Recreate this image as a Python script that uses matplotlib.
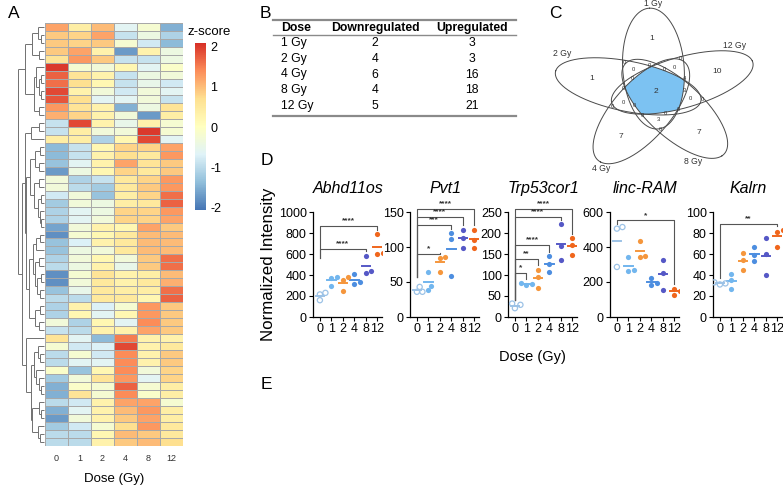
import numpy as np
import matplotlib
matplotlib.use('Agg')
import matplotlib.pyplot as plt
from matplotlib.colors import LinearSegmentedColormap, Normalize
from matplotlib.cm import ScalarMappable

plt.rcParams['font.family'] = ['Liberation Sans', 'DejaVu Sans']
plt.rcParams['axes.unicode_minus'] = False

# ---------------- data ----------------
doses = ['0', '1', '2', '4', '8', '12']

heat = np.array([
    [1.2, 0.4, 1.0, -0.6, -0.2, -1.5],
    [0.9, 0.8, 1.2, -0.9, -0.4, -1.1],
    [0.9, 0.8, 0.9, -0.2, -0.8, -1.4],
    [0.9, 1.2, 0.3, -1.7, 0.3, -0.4],
    [0.6, 1.3, 0.9, -0.9, -0.9, -0.4],
    [2.0, -0.2, -0.3, 0.2, -0.6, -0.1],
    [1.7, 0.6, 0.3, -0.9, -0.4, -0.3],
    [1.6, 0.7, 0.2, -0.9, -0.5, -0.8],
    [1.9, 0.3, -0.3, -0.8, -0.3, -0.6],
    [1.8, 0.7, -0.6, -0.6, -0.3, -0.9],
    [1.3, 0.6, 0.3, -1.5, -0.4, 0.6],
    [1.1, 0.8, 0.3, -0.3, -1.7, 0.4],
    [-0.9, 1.9, 0.3, -0.5, 0.3, -0.2],
    [-0.9, 0.4, -0.3, -0.3, 2.0, -0.2],
    [0.4, 0.4, -1.1, 0.2, 1.9, -0.6],
    [-1.4, -0.9, 0.2, 0.8, 0.8, 1.2],
    [-1.4, -0.9, 0.3, 0.7, 0.5, 1.3],
    [-1.3, -0.6, 0.3, 1.2, 0.6, 0.9],
    [-1.7, -0.4, 0.2, 0.8, 0.5, 0.9],
    [-0.3, -1.1, -0.9, 0.5, 0.8, 1.3],
    [-0.3, -1.0, -1.2, 0.5, 0.9, 1.3],
    [-0.8, -0.3, -1.3, 0.4, 0.8, 1.6],
    [-1.2, -0.3, -0.4, 0.4, 0.5, 1.7],
    [-1.1, -0.6, -0.4, 0.8, 0.8, 1.3],
    [-1.1, -0.6, -0.3, 0.8, 0.8, 1.2],
    [-1.6, -0.3, 0.3, 0.2, 1.2, 0.9],
    [-1.8, -0.2, 0.2, 0.5, 1.0, 1.0],
    [-1.3, -0.7, 0.3, 0.5, 1.0, 1.0],
    [-1.3, -0.4, -0.3, 0.5, 1.0, 1.0],
    [-1.1, -0.3, 0.2, -0.3, 0.9, 1.6],
    [-1.0, -0.4, 0.3, -0.5, 0.9, 1.6],
    [-1.8, -0.2, 0.6, 0.3, 0.4, 1.0],
    [-1.8, -0.3, 0.5, 0.3, 0.5, 1.1],
    [-1.3, -0.5, 0.5, 0.4, 0.4, 1.6],
    [-1.0, -1.0, 0.5, 0.5, 0.2, 1.7],
    [-1.1, 0.3, -0.7, -0.2, 1.3, 0.9],
    [-1.1, 0.2, -0.6, 0.2, 1.3, 0.9],
    [-0.3, -1.1, 0.2, -0.6, 1.4, 0.9],
    [-0.9, -1.0, 0.3, 0.3, 1.2, 0.9],
    [0.6, -0.6, -1.4, 1.5, 0.3, 0.3],
    [-0.2, -0.8, -0.7, 1.9, 0.3, 0.5],
    [-1.0, -0.2, -0.8, 1.4, 0.3, 0.9],
    [-1.0, -0.6, -0.6, 1.4, 0.3, 0.9],
    [-0.1, -1.3, 0.2, 1.4, -0.3, 0.8],
    [-1.2, -0.3, 0.6, 1.3, -0.6, 0.8],
    [-1.5, -0.1, -0.2, 1.7, -0.2, 0.4],
    [-1.5, 0.6, -0.2, 1.4, -0.1, 0.4],
    [-1.0, -0.8, 0.3, 1.2, 1.2, -0.2],
    [-1.5, -0.6, 0.3, 1.0, 1.3, 0.4],
    [-1.7, -0.3, 0.3, 0.9, 1.2, 0.4],
    [-1.2, -0.8, -0.2, 0.7, 1.3, 0.5],
    [-1.0, -1.0, 0.2, 1.0, 0.9, 0.5],
    [-1.0, -1.0, 0.3, 0.9, 1.0, 0.7],
])

# row dendrogram: (height, left, right) or leaf index
dendro = (1.0,
          (0.72,
           (0.45, (0.25, 0, (0.12, 1, 2)), (0.2, 3, 4)),
           (0.4, (0.3, 5, (0.2, (0.1, 6, 7), (0.12, 8, 9))), (0.18, 10, 11))),
          (0.85,
           (0.75,
            (0.5, (0.2, 12, 13), 14),
            (0.68,
             (0.55, (0.35, (0.15, 15, 16), (0.2, 17, 18)),
              (0.38, (0.2, 19, 20), (0.25, (0.12, 21, 22), (0.15, 23, (0.1, 24, 25))))),
             (0.58, (0.42, (0.3, (0.15, 26, 27), 28),
                     (0.35, (0.2, 29, 30), (0.28, (0.1, 31, 32), (0.15, 33, 34)))),
              (0.35, (0.15, 35, 36), (0.2, 37, 38))))),
           (0.7, 39,
            (0.5, (0.4, (0.25, 40, (0.15, 41, 42)), (0.3, 43, (0.2, 44, (0.1, 45, 46)))),
             (0.45, (0.2, 47, (0.12, 48, 49)), (0.25, 50, (0.15, 51, 52)))))))

table_doses = ['1 Gy', '2 Gy', '4 Gy', '8 Gy', '12 Gy']
table_down = [2, 4, 6, 4, 5]
table_up = [3, 3, 16, 18, 21]

venn_sets = ['1 Gy', '2 Gy', '4 Gy', '8 Gy', '12 Gy']
venn_all = 2
venn_only = [1, 1, 7, 7, 10]
# small non-zero counts: (probe pixel position, value)
venn_extra = [((640, 74), 1), ((689, 73), 4), ((689, 82), 3),
              ((685, 95), 3), ((698, 90), 4), ((668, 120), 3)]

genes = ['Abhd11os', 'Pvt1', 'Trp53cor1', 'linc-RAM', 'Kalrn']
abhd11os = [[160, 215, 230], [300, 375, 380], [245, 355, 380], [310, 330, 405], [420, 440, 585], [600, 610, 790]]
pvt1 = [[36, 36, 43], [38, 45, 65], [65, 85, 86], [58, 112, 120], [99, 113, 125], [99, 110, 125]]
trp53cor1 = [[21, 29, 32], [76, 78, 80], [70, 95, 113], [106, 126, 145], [135, 168, 222], [148, 172, 187]]
linc_ram = [[286, 505, 514], [263, 270, 343], [343, 350, 432], [181, 196, 225], [152, 251, 328], [128, 149, 162]]
kalrn = [[31, 32, 33], [27, 35, 41], [44.5, 54, 61], [53, 59, 67], [40, 60, 75], [67, 80.6, 82.5]]
gene_values = [abhd11os, pvt1, trp53cor1, linc_ram, kalrn]
gene_yticks = [[0, 200, 400, 600, 800, 1000], [0, 50, 100, 150], [0, 50, 100, 150, 200, 250],
               [0, 200, 400, 600], [0, 20, 40, 60, 80, 100]]
# brackets: (group a, group b, label, level)
gene_sig = [
    [(0, 5, '****', 870), (0, 4, '****', 650)],
    [(0, 2, '*', 90), (0, 3, '***', 131), (0, 4, '****', 143), (0, 5, '****', 155)],
    [(0, 1, '*', 105), (0, 2, '**', 139), (0, 3, '****', 172), (0, 4, '****', 238), (0, 5, '****', 258)],
    [(0, 5, '*', 552)],
    [(0, 5, '**', 89)],
]
# lower end of the left bracket legs (value units)
gene_leg0 = [560, 57, 40, 530, 37]

dose_colors = ['#9cc2e6', '#72b6ee', '#f5963c', '#4d8ee0', '#5558c6', '#f0661c']

# ---------------- figure ----------------
W, H = 783, 486
fig = plt.figure(figsize=(W / 100, H / 100), dpi=100)


def pax(x0, y0, x1, y1):
    return fig.add_axes([x0 / W, 1 - y1 / H, (x1 - x0) / W, (y1 - y0) / H])


ov = fig.add_axes([0, 0, 1, 1])
ov.set_xlim(0, W)
ov.set_ylim(H, 0)
ov.axis('off')

# panel letters
for lab, (x, y) in zip('ABCDE', [(8, 14), (260, 13), (549, 13), (261, 160), (261, 384)]):
    ov.text(x, y, lab, fontsize=12.5, ha='left', va='center')

# ---------- A: heatmap ----------
cmap = LinearSegmentedColormap.from_list(
    'rdylbu', ['#4575B4', '#91BFDB', '#E0F3F8', '#FFFFBF', '#FEE090', '#FC8D59', '#D73027'])
norm = Normalize(vmin=-2.05, vmax=2.08)
nrow = heat.shape[0]

hax = pax(45, 23, 183, 446)
hax.pcolormesh(heat, cmap=cmap, norm=norm, edgecolors='#a8a8a8', linewidth=0.45)
hax.set_xlim(0, 6)
hax.set_ylim(nrow, 0)
hax.set_xticks(np.arange(6) + 0.5)
hax.set_xticklabels(doses, fontsize=6.5, color='#333333')
hax.tick_params(axis='x', length=0, pad=6)
hax.set_yticks([])
for s in hax.spines.values():
    s.set_visible(False)
hax.set_xlabel('Dose (Gy)', fontsize=9.5, labelpad=7)

# dendrogram
dax = pax(18, 23, 44, 446)
dax.set_xlim(1.0, 0)
dax.set_ylim(nrow, 0)
dax.axis('off')


def draw_tree(node):
    if isinstance(node, int):
        return node + 0.5, 0.0
    h, left, right = node
    yl, hl = draw_tree(left)
    yr, hr = draw_tree(right)
    kw = dict(color='#707070', lw=0.7, solid_capstyle='butt', clip_on=False)
    dax.plot([hl, h], [yl, yl], **kw)
    dax.plot([hr, h], [yr, yr], **kw)
    dax.plot([h, h], [yl, yr], **kw)
    return (yl + yr) / 2, h


draw_tree(dendro)

# colorbar
cax = pax(195, 43, 206, 210)
cb = fig.colorbar(ScalarMappable(norm=norm, cmap=cmap), cax=cax)
cb.outline.set_visible(False)
cb.set_ticks([-2, -1, 0, 1, 2])
cb.ax.tick_params(length=0, labelsize=9, pad=3)
ov.text(188, 32, 'z-score', fontsize=9.5, ha='left', va='center')

# ---------- B: table ----------
tx0, tx1 = 273, 516
ov.plot([tx0, tx1], [20, 20], color='#8a8a8a', lw=1.6)
ov.plot([tx0, tx1], [35.5, 35.5], color='#8a8a8a', lw=1.0)
ov.plot([tx0, tx1], [116, 116], color='#8a8a8a', lw=1.6)
ov.text(281, 28, 'Dose', fontsize=8.8, fontweight='bold', ha='left', va='center')
ov.text(375, 28, 'Downregulated', fontsize=8.8, fontweight='bold', ha='center', va='center')
ov.text(472, 28, 'Upregulated', fontsize=8.8, fontweight='bold', ha='center', va='center')
for i, (d, dn, up) in enumerate(zip(table_doses, table_down, table_up)):
    y = 43 + i * 15.75
    ov.text(281, y, d, fontsize=8.8, ha='left', va='center')
    ov.text(375, y, str(dn), fontsize=8.8, ha='center', va='center')
    ov.text(472, y, str(up), fontsize=8.8, ha='center', va='center')

# ---------- C: Venn ----------
VC = (656.0, 91.5)
SX, SY = 75.0, 60.5
EA, EB = 1.0, 0.41
BASE = np.array([-0.014, 0.38])
ROT = np.deg2rad(3.0)


def rot(v, ang):
    c, s = np.cos(ang), np.sin(ang)
    return np.array([c * v[0] - s * v[1], s * v[0] + c * v[1]])


ell = []
for k in range(5):
    phi = np.deg2rad(72 * k) + ROT
    ell.append((rot(BASE, phi), np.deg2rad(90) + phi))


def to_px(u, v):
    return VC[0] + SX * np.asarray(u), VC[1] - SY * np.asarray(v)


def inside(k, U, V):
    c, th = ell[k]
    du, dv = U - c[0], V - c[1]
    a = du * np.cos(th) + dv * np.sin(th)
    b = -du * np.sin(th) + dv * np.cos(th)
    return (a / EA) ** 2 + (b / EB) ** 2 <= 1


# centre region (intersection of all five) via ray casting
angs = np.linspace(0, 2 * np.pi, 400)
rs = []
for t in angs:
    d = np.array([np.cos(t), np.sin(t)])
    rmin = np.inf
    for c, th in ell:
        R = np.array([[np.cos(th), np.sin(th)], [-np.sin(th), np.cos(th)]])
        p0 = R @ (-c)
        dd = R @ d
        A = (dd[0] / EA) ** 2 + (dd[1] / EB) ** 2
        B = 2 * (p0[0] * dd[0] / EA ** 2 + p0[1] * dd[1] / EB ** 2)
        Cc = (p0[0] / EA) ** 2 + (p0[1] / EB) ** 2 - 1
        r = (-B + np.sqrt(B * B - 4 * A * Cc)) / (2 * A)
        rmin = min(rmin, r)
    rs.append(rmin)
rs = np.array(rs)
px, py = to_px(rs * np.cos(angs), rs * np.sin(angs))
ov.fill(px, py, color='#7cc2f2', zorder=1, lw=0)

tt = np.linspace(0, 2 * np.pi, 300)
for c, th in ell:
    u = c[0] + EA * np.cos(tt) * np.cos(th) - EB * np.sin(tt) * np.sin(th)
    v = c[1] + EA * np.cos(tt) * np.sin(th) + EB * np.sin(tt) * np.cos(th)
    X, Y = to_px(u, v)
    ov.plot(X, Y, color='#4a4a4a', lw=0.7, zorder=2)

# regions
gu, gv = np.meshgrid(np.linspace(-1.6, 1.6, 500), np.linspace(-1.6, 1.6, 500))
code = np.zeros(gu.shape, dtype=int)
for k in range(5):
    code |= inside(k, gu, gv).astype(int) << k
counts = {31: venn_all}
for k in range(5):
    counts[1 << k] = venn_only[k]
for (xp, yp), val in venn_extra:
    u, v = (xp - VC[0]) / SX, (VC[1] - yp) / SY
    c = 0
    for k in range(5):
        c |= int(inside(k, np.array(u), np.array(v))) << k
    if c not in counts:
        counts[c] = val
for c in range(1, 32):
    m = code == c
    if m.sum() == 0:
        continue
    cu, cv = gu[m].mean(), gv[m].mean()
    j = np.argmin((gu[m] - cu) ** 2 + (gv[m] - cv) ** 2)
    X, Y = to_px(gu[m][j], gv[m][j])
    val = counts.get(c, 0)
    big = c == 31 or c in [1 << k for k in range(5)]
    ov.text(X, Y, str(val), fontsize=6 if big else 4.2, ha='center', va='center',
            color='#333333', zorder=3)

for name, (x, y) in zip(venn_sets, [(653, 4), (562, 53), (601, 168), (693, 161), (735, 45)]):
    ov.text(x, y, name, fontsize=6.2, ha='center', va='center', color='#333333')

# ---------- D: strip plots ----------
axes_left = [313, 410, 508, 610, 713]
for gi, (g, vals, yt, sig, leg0, xl) in enumerate(zip(genes, gene_values, gene_yticks, gene_sig,
                                                      gene_leg0, axes_left)):
    ax = pax(xl, 212, xl + 69, 317)
    ymax = yt[-1]
    ax.set_xlim(-0.6, 5.4)
    ax.set_ylim(0, ymax)
    pxu = 105.0 / ymax  # pixels per unit
    dia = 5.2
    for j, v in enumerate(vals):
        placed = []
        for val in sorted(v):
            for cand in [0, 0.24, -0.24, 0.48, -0.48]:
                ok = all(((cand - px0) * 11.5) ** 2 + ((val - py0) * pxu) ** 2 >= dia ** 2 for px0, py0 in placed)
                if ok:
                    placed.append((cand, val))
                    break
        xs = [j + p[0] for p in placed]
        ys = [p[1] for p in placed]
        if j == 0:
            ax.scatter(xs, ys, s=14, facecolors='none', edgecolors=dose_colors[j], linewidths=0.9, zorder=3)
        else:
            ax.scatter(xs, ys, s=14, color=dose_colors[j], lw=0, zorder=3)
        ax.plot([j - 0.36, j + 0.36], [np.mean(v)] * 2, color=dose_colors[j], lw=1.4, zorder=2)
    pad = 0.04 * ymax
    for a, b, lab, lev in sig:
        yb = max(vals[b]) + pad
        ax.plot([a, a, b, b], [leg0, lev, lev, yb], color='#555555', lw=0.8, clip_on=False)
        ax.text((a + b) / 2, lev + 0.015 * ymax, lab, fontsize=6, ha='center', va='bottom',
                fontweight='bold', color='#333333')
    ax.set_xticks(range(6))
    ax.set_xticklabels(doses)
    ax.set_yticks(yt)
    ax.tick_params(labelsize=9, length=3, width=0.8, pad=1.5)
    for s in ['top', 'right']:
        ax.spines[s].set_visible(False)
    for s in ['left', 'bottom']:
        ax.spines[s].set_linewidth(0.9)
    ax.set_facecolor('none')
    ov.text(xl + 35, 188, g, fontsize=11.5, style='italic', ha='center', va='center')

ov.text(268, 264, 'Normalized Intensity', fontsize=12.2, rotation=90, ha='center', va='center')
ov.text(532, 357, 'Dose (Gy)', fontsize=10.5, ha='center', va='center')

fig.savefig('out.png', dpi=100)
